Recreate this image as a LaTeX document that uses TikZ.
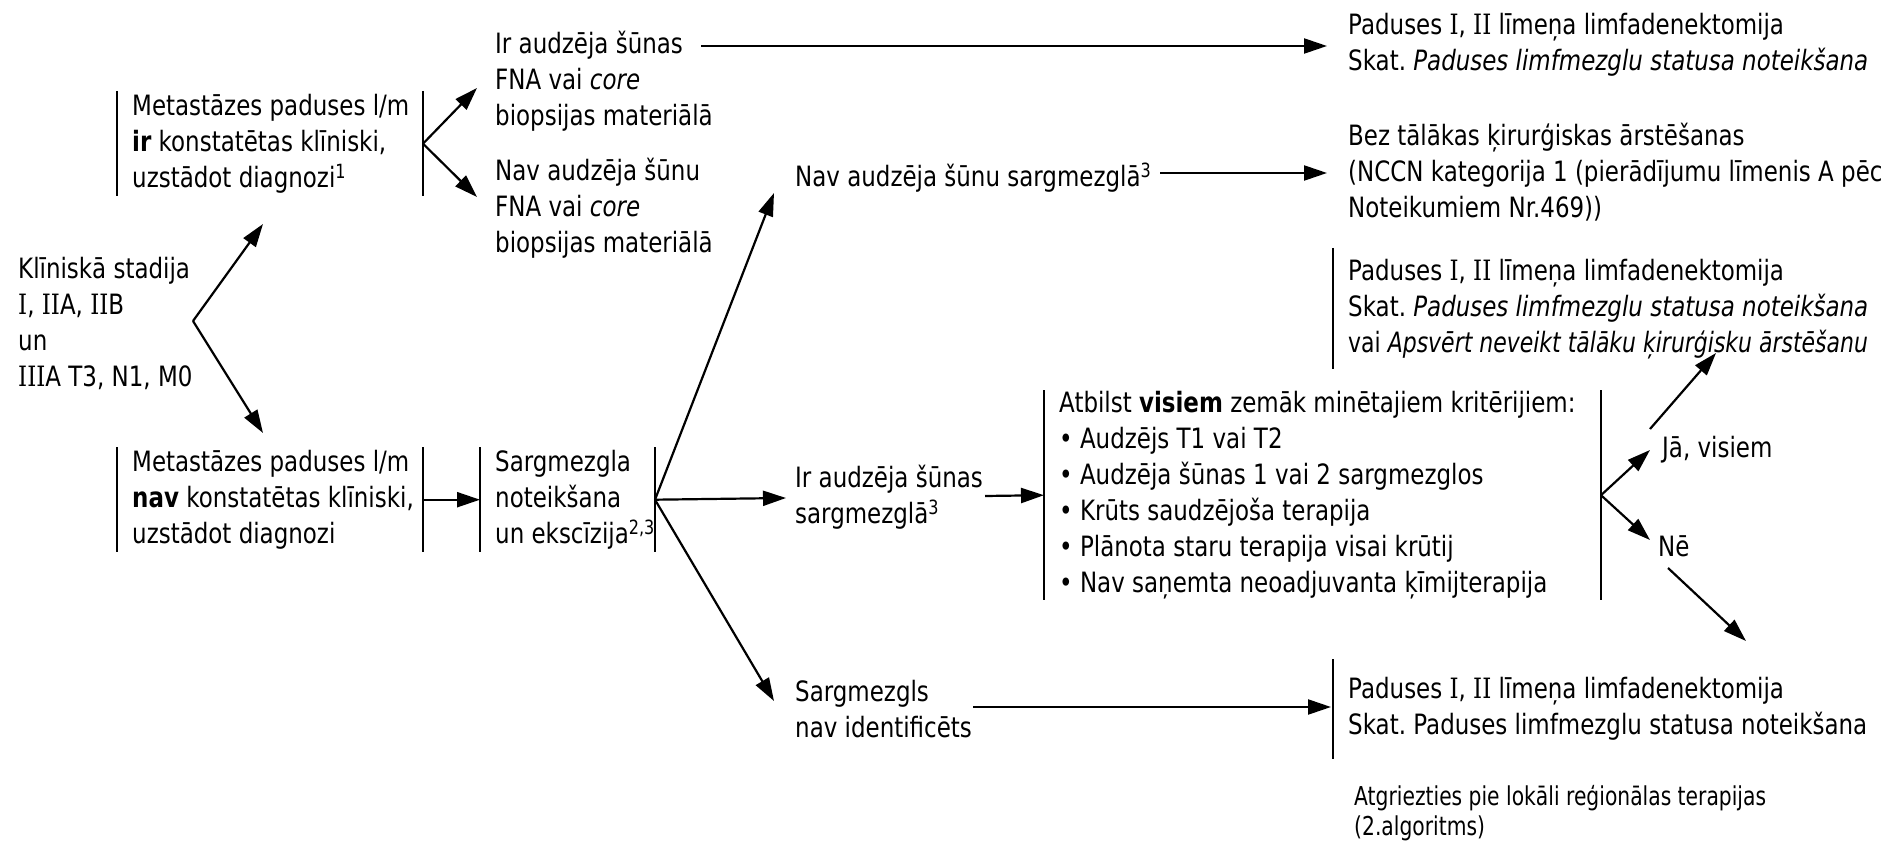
\documentclass[tikz,border=0pt]{standalone}
\usepackage{fontspec}
\setmainfont{DejaVu Sans}[FakeStretch=0.82]
\newfontfamily\notefont{DejaVu Sans}[FakeStretch=0.78]
\newfontfamily\narrowfont{DejaVu Sans}[FakeStretch=0.785]
\newfontfamily\romanIfont{DejaVu Serif}[FakeStretch=0.82]
\newcommand\RI{{\romanIfont I}}
\usetikzlibrary{arrows.meta}

\begin{document}
\frenchspacing
\begin{tikzpicture}[x=1pt,y=-1pt,
  every node/.style={font=\fontsize{28pt}{36pt}\selectfont},
  txt/.style={align=left, inner sep=0pt, anchor=west},
  barbox/.style={align=left, anchor=north west, inner xsep=15pt, inner ysep=0pt},
  bar/.style={line width=1.6pt},
  arr/.style={line width=2.2pt, -{Triangle[length=23pt,width=15pt]}},
]
\useasboundingbox (0,0) rectangle (1895,842);

% ---- text blocks ----
\node[txt] (klin) at (18,323) {Klīniskā stadija\\ \RI, \RI\RI A, \RI\RI B\\ un\\ \RI\RI\RI A T3, N1, M0};

\node[barbox, minimum height=105pt] (mIr) at (117,91)
  {Metastāzes paduses l/m\\ \textbf{ir} konstatētas klīniski,\\ uzstādot diagnozi\textsuperscript{1}};
\node[barbox, minimum height=105pt] (mNav) at (117,447)
  {Metastāzes paduses l/m\\ \textbf{nav} konstatētas klīniski,\\ uzstādot diagnozi};
\node[barbox, minimum height=105pt] (sarg) at (480,447)
  {Sargmezgla\\ noteikšana\\ un ekscīzija\textsuperscript{2,3}};

\node[txt] (irFNA) at (495,81) {Ir audzēja šūnas\\ FNA vai \textit{core}\\ biopsijas materiālā};
\node[txt] (navFNA) at (495,208) {Nav audzēja šūnu\\ FNA vai \textit{core}\\ biopsijas materiālā};

\node[txt] (padA) at (1348,45) {Paduses \RI, \RI\RI{} līmeņa limfadenektomija\\ Skat. \textit{Paduses limfmezglu statusa noteikšana}};
\node[txt] (bez) at (1348,172) {Bez tālākas ķirurģiskas ārstēšanas\\ (NCCN kategorija 1 (pierādījumu līmenis A pēc\\ Noteikumiem Nr.469))};
\node[txt] (navSarg) at (795,178) {Nav audzēja šūnu sargmezglā\textsuperscript{3}};

\node[barbox, minimum height=121pt] (apsv) at (1333,248)
  {Paduses \RI, \RI\RI{} līmeņa limfadenektomija\\ Skat. \textit{Paduses limfmezglu statusa noteikšana}\\ {\narrowfont vai \textit{Apsvērt neveikt tālāku ķirurģisku ārstēšanu}}};

\node[txt] (irSarg) at (795,497) {Ir audzēja šūnas\\ sargmezglā\textsuperscript{3}};
\node[barbox, minimum height=210pt] (crit) at (1044,390)
  {Atbilst \textbf{visiem} zemāk minētajiem kritērijiem:\\ • Audzējs T1 vai T2\\ • Audzēja šūnas 1 vai 2 sargmezglos\\ • Krūts saudzējoša terapija\\ • Plānota staru terapija visai krūtij\\ • Nav saņemta neoadjuvanta ķīmijterapija};

\node[txt] (ja) at (1662,450) {Jā, visiem};
\node[txt] (ne) at (1658,546) {Nē};

\node[txt] (sNav) at (795,709) {Sargmezgls\\ nav identificēts};
\node[barbox, minimum height=100pt] (padB) at (1333,659)
  {Paduses \RI, \RI\RI{} līmeņa limfadenektomija\\ Skat. Paduses limfmezglu statusa noteikšana};

\node[txt, font=\notefont\fontsize{26pt}{30pt}\selectfont] (atgr) at (1354,813)
  {Atgriezties pie lokāli reģionālas terapijas\\ (2.algoritms)};

% ---- side bars (right bars sit at a fixed width from the left one) ----
\foreach \b/\w in {mIr/306pt, mNav/306pt, sarg/175pt, crit/557pt} {
  \draw[bar] (\b.north west) -- (\b.south west);
  \draw[bar] ([xshift=\w]\b.north west) -- ([xshift=\w]\b.south west);
  \coordinate (\b R) at ([xshift=\w]\b.west);
}
\foreach \b in {apsv, padB}
  \draw[bar] (\b.north west) -- (\b.south west);

% ---- branch points and free ends ----
\coordinate (v0) at (193,321);
\coordinate (t0a) at (263,224);
\coordinate (t0b) at (263,433);
\coordinate (t1a) at (477,88);
\coordinate (t1b) at (477,197);
\coordinate (s1) at (701,46);
\coordinate (e1) at (1327,46);
\coordinate (t2a) at (774,193);
\coordinate (t2b) at (786,498);
\coordinate (t2c) at (774,701);
\coordinate (s2) at (1160,173);
\coordinate (e2) at (1327,173);
\coordinate (s3) at (985,496);
\coordinate (t3a) at (1650,450);
\coordinate (t3b) at (1650,540);
\coordinate (s4) at (1650,429);
\coordinate (e4) at (1716,353);
\coordinate (s5) at (1668,568);
\coordinate (e5) at (1746,641);
\coordinate (s6) at (973,707);
\coordinate (e6) at (1331,707);

% ---- connectors ----
\draw[arr] (v0) -- (t0a);
\draw[arr] (v0) -- (t0b);
\draw[arr] (mIrR) -- (t1a);
\draw[arr] (mIrR) -- (t1b);
\draw[arr] (s1) -- (e1);
\draw[arr] (mNavR) -- (sarg.west);
\draw[arr] (sargR) -- (t2a);
\draw[arr] (sargR) -- (t2b);
\draw[arr] (sargR) -- (t2c);
\draw[arr] (s2) -- (e2);
\draw[arr] (s3) -- (crit.west);
\draw[arr] (critR) -- (t3a);
\draw[arr] (critR) -- (t3b);
\draw[arr] (s4) -- (e4);
\draw[arr] (s5) -- (e5);
\draw[arr] (s6) -- (e6);
\end{tikzpicture}
\end{document}
